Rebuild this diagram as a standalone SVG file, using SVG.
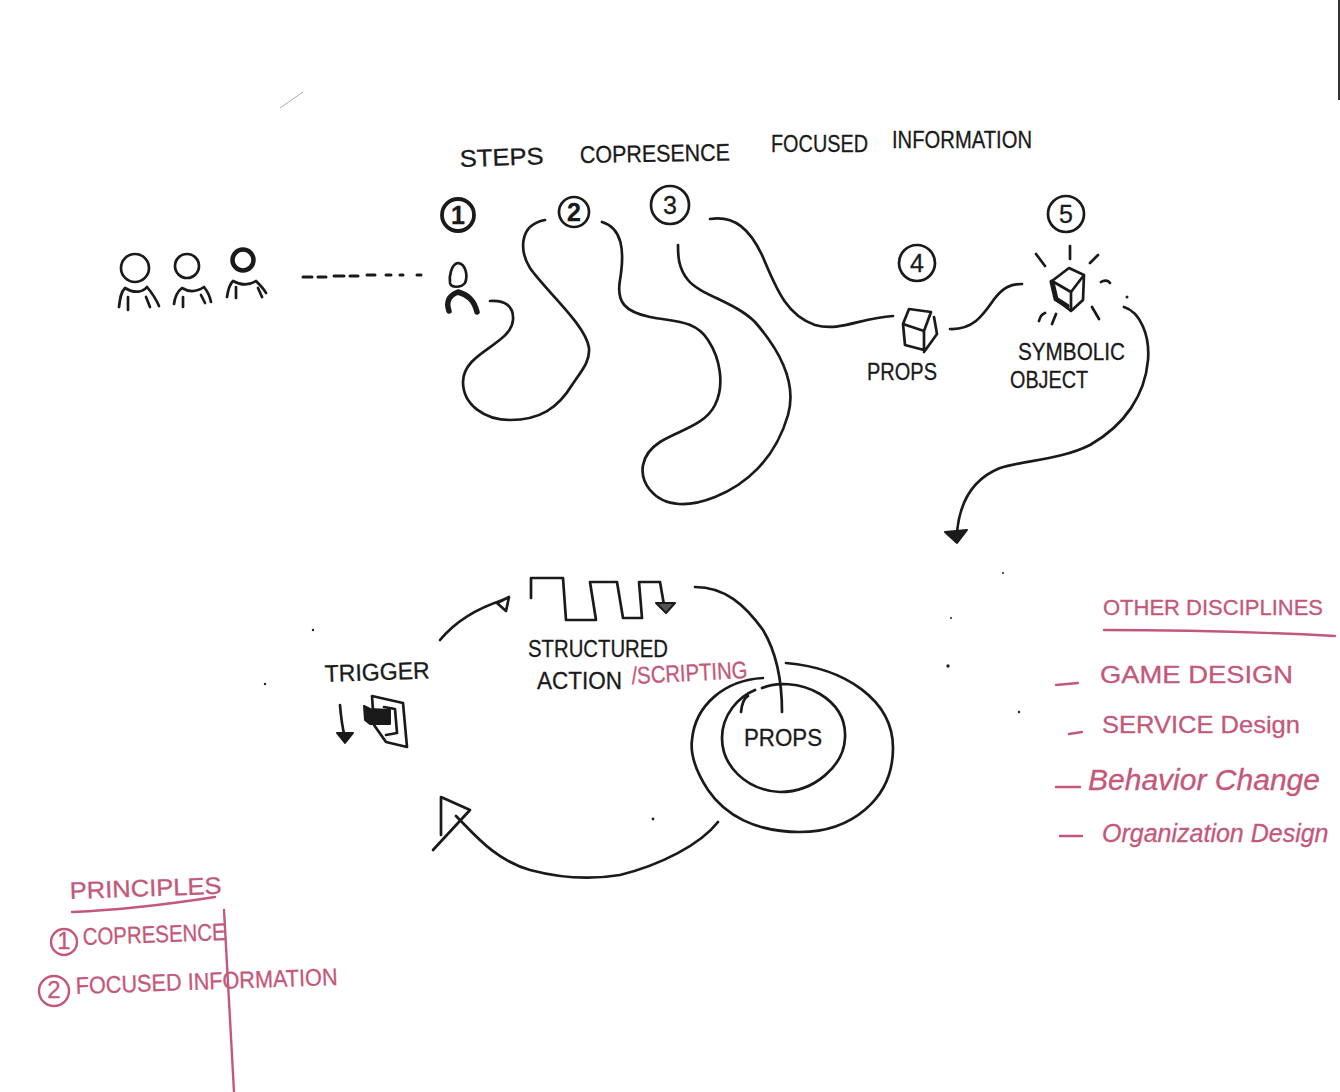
<svg xmlns="http://www.w3.org/2000/svg" width="1340" height="1092" viewBox="0 0 1340 1092">
<style>
.l{fill:none;stroke:#1a1a1a;stroke-width:2.7;stroke-linecap:round;stroke-linejoin:round}
.h{stroke-width:3.8}
.p{fill:none;stroke:#c4587a;stroke-width:2.4;stroke-linecap:round;stroke-linejoin:round}
.a{fill:#1a1a1a;stroke:#1a1a1a;stroke-width:2;stroke-linejoin:round}
text{font-family:"Liberation Sans",Arial,sans-serif;fill:#1a1a1a;font-size:24px;stroke:#1a1a1a;stroke-width:.3}
.n{text-anchor:middle;font-size:25px}
.t{fill:#c4587a;stroke:#c4587a}
.s{fill:#c4587a;stroke:#c4587a;font-style:italic;font-size:29px}
</style>
<rect width="1340" height="1092" fill="#fff"/>
<path d="M280 108L303 92" fill="none" stroke="#aaa" stroke-width="1"/>
<path d="M1339 0V100" fill="none" stroke="#333" stroke-width="2"/>
<g id="specks" fill="#222">
<circle cx="1127" cy="297" r="1.5"/><circle cx="1003" cy="573" r="1"/><circle cx="948" cy="666" r="1.7"/><circle cx="951" cy="618" r="1"/><circle cx="1019" cy="712" r="1.2"/><circle cx="653" cy="819" r="1.4"/><circle cx="313" cy="630" r="1.2"/><circle cx="265" cy="684" r="1.2"/>
</g>
<g id="connectors">
<path class="l" d="M303 277L312 277M318 277L326 277M334 276L344 276M350 276L358 276M367 275L375 275M386 275L391 275M400 275L403 275M417 275L421 275" style="stroke-width:3"/>
<path class="l" d="M490 301C505 300 514 306 513 320C511 345 463 352 463 382C463 405 485 420 510 420C540 420 558 408 572 385C582 370 590 362 589 348C586 325 545 290 530 268C520 252 518 225 545 220"/>
<path class="l" d="M602 222C622 228 625 250 620 280C616 303 626 312 650 317C675 322 695 320 708 340C720 358 725 385 715 405C705 425 680 430 660 442C640 455 638 475 650 490C665 508 690 507 715 497C745 485 775 460 788 415C798 380 775 345 755 322C735 302 700 295 688 280C678 268 678 255 678 245"/>
<path class="l" d="M710 219C735 215 750 230 762 255C775 285 785 315 815 325C840 332 860 318 893 316"/>
<path class="l" d="M950 329C975 330 985 312 995 298C1003 288 1010 284 1022 284"/>
<path class="l" d="M1124 307C1140 312 1150 335 1148 360C1145 395 1125 425 1090 445C1060 460 1025 460 1000 468C975 478 960 500 957 532"/>
<path class="a" d="M945 532L967 530L957 543Z"/>
<path class="l" d="M440 640C455 622 478 608 503 600"/>
<path class="l" d="M497 603L509 597L506 611Z" />
<path class="l" d="M531 598V578H563L566 620H596L590 582H617L623 618H642L639 582H660L664 605"/>
<path class="a" d="M656 603L675 603L666 613Z" style="fill:#555"/>
<path class="l" d="M695 587C725 587 745 605 763 630C775 650 782 675 782 712"/>
<path class="l" d="M718 822C700 845 660 865 620 875C590 880 560 878 530 870C495 860 475 835 456 816"/>
<path class="l" d="M441 835V797L470 810L433 850"/>
<path class="l" d="M340 705C341 718 343 730 345 738"/>
<path class="a" d="M337 733L353 733L345 743Z"/>
</g>
<g id="people">
<g id="person-a"><circle class="l" cx="135" cy="268" r="14"/><path class="l" d="M119 307C120 298 121 292 125 288C135 294 143 292 147 287C152 293 156 299 159 306M128 310V297M150 307L146 297"/></g>
<g id="person-b"><circle class="l" cx="187" cy="266" r="12"/><path class="l" d="M174 304C175 296 178 291 182 288C190 293 198 291 204 287C208 292 210 297 211 302M183 307V297M205 303L201 295"/></g>
<g id="person-c"><circle class="l" cx="243" cy="260" r="10.5" style="stroke-width:4.5"/><path class="l" d="M227 297C228 290 229 285 233 281C242 286 250 285 256 281C260 285 264 289 266 293M236 298V287M262 297L258 288"/></g>
</g>
<g id="step-1"><circle class="l h" cx="458" cy="215" r="16"/><text class="n" x="458" y="224" font-weight="bold">1</text>
<path class="l" d="M458 263C466 264 468 276 465 283C461 288 451 288 450 283C449 277 451 264 458 263Z"/>
<path class="l" d="M449 311C446 302 448 296 458 292C468 295 474 300 477 312" style="stroke-width:5.5"/></g>
<g id="step-2"><circle class="l" cx="574" cy="212" r="15"/><text class="n" x="574" y="221" font-weight="bold">2</text></g>
<g id="step-3"><circle class="l" cx="670" cy="205" r="19"/><text class="n" x="670" y="214">3</text></g>
<g id="step-4"><circle class="l" cx="917" cy="263" r="18"/><text class="n" x="917" y="272">4</text>
<path class="l" d="M903 324L909 309L931 312L924 331L903 324L905 345L924 350L924 331M934 317L937 334L924 352"/>
<text x="867" y="380" textLength="70" lengthAdjust="spacingAndGlyphs">PROPS</text></g>
<g id="step-5"><circle class="l" cx="1066" cy="214" r="18"/><text class="n" x="1066" y="223">5</text>
<path class="l" d="M1052 281L1069 268L1084 275L1083 300L1071 311L1056 299ZM1052 281L1071 292L1084 275M1071 292V311"/>
<path class="l h" d="M1052 282L1056 299L1067 306" style="stroke-width:5"/>
<path class="l" d="M1070 246V259M1036 254L1045 266M1090 263L1098 255M1101 282C1104 280 1108 280 1110 283M1039 321C1040 317 1042 314 1045 313M1052 324L1056 314M1092 307L1099 319"/>
<text x="1018" y="360" textLength="107" lengthAdjust="spacingAndGlyphs">SYMBOLIC</text>
<text x="1010" y="388" textLength="78" lengthAdjust="spacingAndGlyphs">OBJECT</text></g>
<g id="header">
<text x="460" y="167" textLength="84" lengthAdjust="spacingAndGlyphs" transform="rotate(-2 460 167)">STEPS</text>
<text x="580" y="163" textLength="150" lengthAdjust="spacingAndGlyphs" transform="rotate(-1 580 163)">COPRESENCE</text>
<text x="771" y="152" textLength="97" lengthAdjust="spacingAndGlyphs">FOCUSED</text>
<text x="892" y="148" textLength="140" lengthAdjust="spacingAndGlyphs" font-size="22">INFORMATION</text>
</g>
<g id="trigger">
<text x="325" y="682" textLength="105" lengthAdjust="spacingAndGlyphs" transform="rotate(-2 325 682)">TRIGGER</text>
<path class="l" d="M372 696L403 703L407 747L386 742L374 725ZM384 707L395 709L397 733L386 735"/>
<path class="a" d="M364 706L370 709L390 710L390 724L370 724L365 720Z"/>
</g>
<g id="structured-action">
<text x="528" y="657" textLength="140" lengthAdjust="spacingAndGlyphs">STRUCTURED</text>
<text x="537" y="689" textLength="85" lengthAdjust="spacingAndGlyphs">ACTION</text>
<text class="t" x="632" y="684" textLength="116" lengthAdjust="spacingAndGlyphs" transform="rotate(-3 632 684)">/SCRIPTING</text>
</g>
<g id="props">
<path class="l" d="M786 663C845 668 893 700 893 748C893 800 850 832 800 832C755 832 725 815 708 790C695 770 690 755 692 740C695 705 725 680 763 678"/>
<path class="l" d="M741 712C742 703 744 698 748 696M762 688C775 682 800 682 820 694C838 705 846 720 845 738C844 765 815 792 780 792C745 790 722 765 722 738C722 715 738 697 755 690"/>
<text x="744" y="746" textLength="78" lengthAdjust="spacingAndGlyphs" font-size="27">PROPS</text>
</g>
<g id="other-disciplines">
<text class="t" x="1103" y="615" font-size="22" style="font-size:22px">OTHER DISCIPLINES</text>
<path class="p" d="M1104 630C1180 630 1260 632 1335 636M1056 685L1078 683M1069 734L1082 732M1056 787H1080M1060 836H1082"/>
<text class="t" x="1100" y="683" textLength="193" lengthAdjust="spacingAndGlyphs">GAME DESIGN</text>
<text class="t" x="1102" y="733" textLength="198" lengthAdjust="spacingAndGlyphs">SERVICE Design</text>
<text class="s" x="1088" y="790" textLength="232" lengthAdjust="spacingAndGlyphs">Behavior Change</text>
<text class="s" x="1102" y="842" style="font-size:25px">Organization Design</text>
</g>
<g id="principles">
<text class="t" x="70" y="899" textLength="152" lengthAdjust="spacingAndGlyphs" font-size="26" transform="rotate(-2 70 899)">PRINCIPLES</text>
<path class="p" d="M72 912C120 910 170 904 215 897M224 910L234 1092"/>
<circle class="p" cx="64" cy="942" r="13"/><text class="t" x="64" y="949" text-anchor="middle" font-size="19">1</text>
<text class="t" x="83" y="945" textLength="143" lengthAdjust="spacingAndGlyphs" transform="rotate(-2 83 945)">COPRESENCE</text>
<circle class="p" cx="54" cy="991" r="15"/><text class="t" x="54" y="998" text-anchor="middle" font-size="20">2</text>
<text class="t" x="76" y="994" textLength="262" lengthAdjust="spacingAndGlyphs" transform="rotate(-2 76 994)">FOCUSED INFORMATION</text>
</g>
</svg>
